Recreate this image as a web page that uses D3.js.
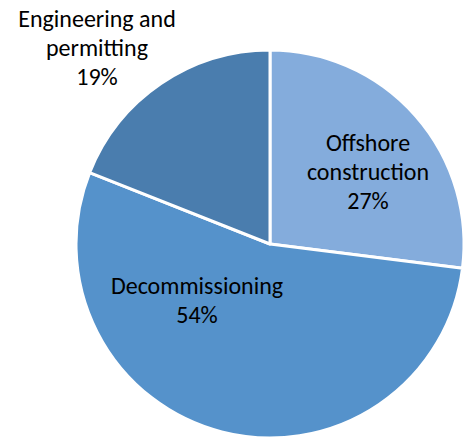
<!DOCTYPE html>
<meta charset="utf-8">
<title>Cost breakdown pie</title>
<style>
  body { margin: 0; background: #fff; }
  text { font-family: Calibri, Carlito, Lato, sans-serif; font-size: 24px; fill: #000; }
</style>
<body>
<script src="https://cdn.jsdelivr.net/npm/d3@7"></script>
<script>
// data
const categories = ["Offshore construction", "Decommissioning", "Engineering and permitting"];
const shares = [27, 54, 19];
const labelLines = [["Offshore", "construction"], ["Decommissioning"], ["Engineering and", "permitting"]];
const colors = ["#84acdc", "#5592cb", "#4a7dae"];

// where Excel dropped the labels (centre x, first baseline y)
const labelAt = [[368, 151], [197, 294], [97, 27]];

const width = 469, height = 438;
const cx = 270, cy = 244, radius = 194;

const svg = d3.select("body").append("svg")
    .attr("width", width)
    .attr("height", height);

const pie = d3.pie().sort(null).value(d => d);
const arc = d3.arc().innerRadius(0).outerRadius(radius);

const g = svg.append("g").attr("transform", `translate(${cx},${cy})`);

g.selectAll("path")
  .data(pie(shares))
  .join("path")
    .attr("d", arc)
    .attr("fill", (d, i) => colors[i])
    .attr("stroke", "#fff")
    .attr("stroke-width", 3)
    .attr("stroke-linejoin", "round");

const lh = 29;
const labels = svg.selectAll("text.lbl")
  .data(categories)
  .join("text")
    .attr("class", "lbl")
    .attr("text-anchor", "middle");

labels.each(function(d, i) {
  const t = d3.select(this);
  const [x, y] = labelAt[i];
  const lines = labelLines[i].concat([shares[i] + "%"]);
  lines.forEach((s, j) => {
    t.append("tspan").attr("x", x).attr("y", y + j * lh).text(s);
  });
});
</script>
